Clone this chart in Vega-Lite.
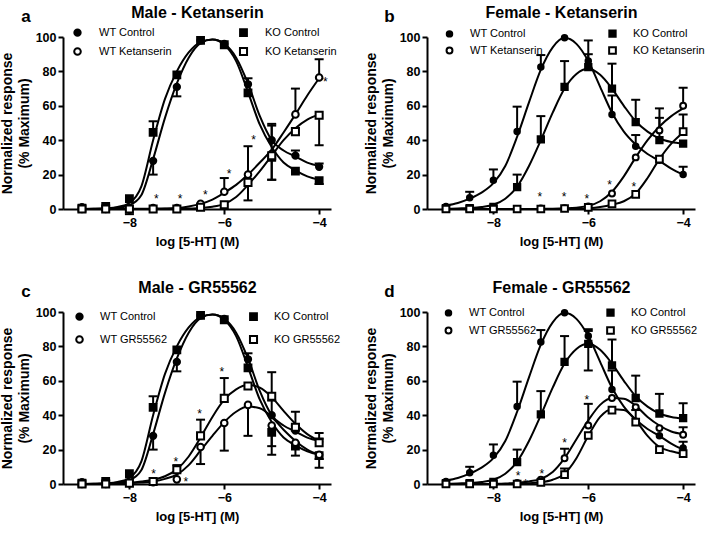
{
"$schema":"https://vega.github.io/schema/vega-lite/v6.json",
"padding":{"left":0,"top":4,"right":3,"bottom":5},
"config":{"font":"Liberation Sans","view":{"stroke":null},
"axis":{"domainColor":"black","domainWidth":2,"tickColor":"black","tickWidth":2,"tickSize":5,"labelColor":"black","labelFontSize":12.5,"labelFontWeight":"bold","labelFont":"Liberation Sans","titleFont":"Liberation Sans","titleFontSize":14,"titleFontWeight":"bold","titleColor":"black","grid":false,"labelPadding":2},
"title":{"font":"Liberation Sans","fontSize":17,"fontWeight":"bold","color":"black"}},
"datasets":{
"pts":[
{"p":"a","s":"WT Control","x":-9,"y":1},{"p":"a","s":"WT Control","x":-8.5,"y":0.5},{"p":"a","s":"WT Control","x":-8,"y":0.5},{"p":"a","s":"WT Control","x":-7.5,"y":28,"lo":20},{"p":"a","s":"WT Control","x":-7,"y":71,"lo":65.5},{"p":"a","s":"WT Control","x":-6.5,"y":98},{"p":"a","s":"WT Control","x":-6,"y":96},{"p":"a","s":"WT Control","x":-5.5,"y":72.5,"hi":76},{"p":"a","s":"WT Control","x":-5,"y":40,"hi":48.5},{"p":"a","s":"WT Control","x":-4.5,"y":31,"hi":34},{"p":"a","s":"WT Control","x":-4,"y":24.5,"hi":26.5},
{"p":"a","s":"KO Control","x":-9,"y":0.5},{"p":"a","s":"KO Control","x":-8.5,"y":1.5},{"p":"a","s":"KO Control","x":-8,"y":6},{"p":"a","s":"KO Control","x":-7.5,"y":44.5,"hi":51},{"p":"a","s":"KO Control","x":-7,"y":78},{"p":"a","s":"KO Control","x":-6.5,"y":98},{"p":"a","s":"KO Control","x":-6,"y":95.5},{"p":"a","s":"KO Control","x":-5.5,"y":67.5},{"p":"a","s":"KO Control","x":-5,"y":30,"lo":17},{"p":"a","s":"KO Control","x":-4.5,"y":22},{"p":"a","s":"KO Control","x":-4,"y":16.5,"lo":14.5},
{"p":"a","s":"WT Ketanserin","x":-9,"y":0},{"p":"a","s":"WT Ketanserin","x":-8.5,"y":0},{"p":"a","s":"WT Ketanserin","x":-8,"y":0,"lo":-3},{"p":"a","s":"WT Ketanserin","x":-7.5,"y":0.5},{"p":"a","s":"WT Ketanserin","x":-7,"y":0.5},{"p":"a","s":"WT Ketanserin","x":-6.5,"y":3},{"p":"a","s":"WT Ketanserin","x":-6,"y":10,"hi":18},{"p":"a","s":"WT Ketanserin","x":-5.5,"y":20,"hi":36.5},{"p":"a","s":"WT Ketanserin","x":-5,"y":32,"hi":49.5},{"p":"a","s":"WT Ketanserin","x":-4.5,"y":55,"hi":70},{"p":"a","s":"WT Ketanserin","x":-4,"y":76.5,"hi":87},
{"p":"a","s":"KO Ketanserin","x":-9,"y":0},{"p":"a","s":"KO Ketanserin","x":-8.5,"y":0},{"p":"a","s":"KO Ketanserin","x":-8,"y":0},{"p":"a","s":"KO Ketanserin","x":-7.5,"y":0},{"p":"a","s":"KO Ketanserin","x":-7,"y":0},{"p":"a","s":"KO Ketanserin","x":-6.5,"y":1},{"p":"a","s":"KO Ketanserin","x":-6,"y":2.5},{"p":"a","s":"KO Ketanserin","x":-5.5,"y":15.5,"lo":5},{"p":"a","s":"KO Ketanserin","x":-5,"y":31,"lo":17},{"p":"a","s":"KO Ketanserin","x":-4.5,"y":45},{"p":"a","s":"KO Ketanserin","x":-4,"y":54.5,"lo":37},

{"p":"b","s":"WT Control","x":-9,"y":1.5},{"p":"b","s":"WT Control","x":-8.5,"y":6.5,"hi":10},{"p":"b","s":"WT Control","x":-8,"y":16.7,"hi":23},{"p":"b","s":"WT Control","x":-7.5,"y":45,"hi":59.5},{"p":"b","s":"WT Control","x":-7,"y":82.5,"hi":89.5},{"p":"b","s":"WT Control","x":-6.5,"y":99.5},{"p":"b","s":"WT Control","x":-6,"y":86,"hi":90},{"p":"b","s":"WT Control","x":-5.5,"y":55,"hi":66},{"p":"b","s":"WT Control","x":-5,"y":36.5,"hi":43},{"p":"b","s":"WT Control","x":-4.5,"y":28.3},{"p":"b","s":"WT Control","x":-4,"y":20,"hi":24.5},
{"p":"b","s":"KO Control","x":-9,"y":0.5},{"p":"b","s":"KO Control","x":-8.5,"y":0.5},{"p":"b","s":"KO Control","x":-8,"y":1.2},{"p":"b","s":"KO Control","x":-7.5,"y":12.7,"hi":20},{"p":"b","s":"KO Control","x":-7,"y":40.5,"hi":54},{"p":"b","s":"KO Control","x":-6.5,"y":71,"hi":86},{"p":"b","s":"KO Control","x":-6,"y":82.5,"hi":98},{"p":"b","s":"KO Control","x":-5.5,"y":70,"hi":84.5},{"p":"b","s":"KO Control","x":-5,"y":50.5,"hi":63.5},{"p":"b","s":"KO Control","x":-4.5,"y":40,"hi":53},{"p":"b","s":"KO Control","x":-4,"y":38},
{"p":"b","s":"WT Ketanserin","x":-9,"y":0},{"p":"b","s":"WT Ketanserin","x":-8.5,"y":0},{"p":"b","s":"WT Ketanserin","x":-8,"y":0},{"p":"b","s":"WT Ketanserin","x":-7.5,"y":0},{"p":"b","s":"WT Ketanserin","x":-7,"y":0.3},{"p":"b","s":"WT Ketanserin","x":-6.5,"y":0.5},{"p":"b","s":"WT Ketanserin","x":-6,"y":1.5},{"p":"b","s":"WT Ketanserin","x":-5.5,"y":9},{"p":"b","s":"WT Ketanserin","x":-5,"y":30},{"p":"b","s":"WT Ketanserin","x":-4.5,"y":45.7,"hi":58.5},{"p":"b","s":"WT Ketanserin","x":-4,"y":60,"hi":70.5},
{"p":"b","s":"KO Ketanserin","x":-9,"y":0},{"p":"b","s":"KO Ketanserin","x":-8.5,"y":0},{"p":"b","s":"KO Ketanserin","x":-8,"y":0},{"p":"b","s":"KO Ketanserin","x":-7.5,"y":0},{"p":"b","s":"KO Ketanserin","x":-7,"y":0},{"p":"b","s":"KO Ketanserin","x":-6.5,"y":0.3},{"p":"b","s":"KO Ketanserin","x":-6,"y":1},{"p":"b","s":"KO Ketanserin","x":-5.5,"y":3},{"p":"b","s":"KO Ketanserin","x":-5,"y":8.5},{"p":"b","s":"KO Ketanserin","x":-4.5,"y":29},{"p":"b","s":"KO Ketanserin","x":-4,"y":45,"hi":55},

{"p":"c","s":"WT Control","x":-9,"y":1},{"p":"c","s":"WT Control","x":-8.5,"y":0.5},{"p":"c","s":"WT Control","x":-8,"y":0.5},{"p":"c","s":"WT Control","x":-7.5,"y":28,"lo":20},{"p":"c","s":"WT Control","x":-7,"y":71,"lo":65.5},{"p":"c","s":"WT Control","x":-6.5,"y":98},{"p":"c","s":"WT Control","x":-6,"y":96},{"p":"c","s":"WT Control","x":-5.5,"y":72.5,"hi":76},{"p":"c","s":"WT Control","x":-5,"y":40,"hi":48.5},{"p":"c","s":"WT Control","x":-4.5,"y":31,"hi":34},{"p":"c","s":"WT Control","x":-4,"y":24.5,"hi":26.5},
{"p":"c","s":"KO Control","x":-9,"y":0.5},{"p":"c","s":"KO Control","x":-8.5,"y":1.5},{"p":"c","s":"KO Control","x":-8,"y":6},{"p":"c","s":"KO Control","x":-7.5,"y":44.5,"hi":51},{"p":"c","s":"KO Control","x":-7,"y":78},{"p":"c","s":"KO Control","x":-6.5,"y":98},{"p":"c","s":"KO Control","x":-6,"y":95.5},{"p":"c","s":"KO Control","x":-5.5,"y":67.5},{"p":"c","s":"KO Control","x":-5,"y":30,"lo":17},{"p":"c","s":"KO Control","x":-4.5,"y":22},{"p":"c","s":"KO Control","x":-4,"y":16.5,"lo":14.5},
{"p":"c","s":"WT GR55562","x":-9,"y":0},{"p":"c","s":"WT GR55562","x":-8.5,"y":0},{"p":"c","s":"WT GR55562","x":-8,"y":0.5},{"p":"c","s":"WT GR55562","x":-7.5,"y":1},{"p":"c","s":"WT GR55562","x":-7,"y":2.7},{"p":"c","s":"WT GR55562","x":-6.5,"y":21.5,"lo":11.6},{"p":"c","s":"WT GR55562","x":-6,"y":35.5,"lo":19.4},{"p":"c","s":"WT GR55562","x":-5.5,"y":46,"lo":28},{"p":"c","s":"WT GR55562","x":-5,"y":34,"lo":22},{"p":"c","s":"WT GR55562","x":-4.5,"y":24,"lo":16.5},{"p":"c","s":"WT GR55562","x":-4,"y":17,"lo":9.5},
{"p":"c","s":"KO GR55562","x":-9,"y":0},{"p":"c","s":"KO GR55562","x":-8.5,"y":0},{"p":"c","s":"KO GR55562","x":-8,"y":0.5},{"p":"c","s":"KO GR55562","x":-7.5,"y":1.5},{"p":"c","s":"KO GR55562","x":-7,"y":8.3,"hi":11},{"p":"c","s":"KO GR55562","x":-6.5,"y":28,"hi":37.4},{"p":"c","s":"KO GR55562","x":-6,"y":49.8,"hi":61.6},{"p":"c","s":"KO GR55562","x":-5.5,"y":57},{"p":"c","s":"KO GR55562","x":-5,"y":51,"hi":65},{"p":"c","s":"KO GR55562","x":-4.5,"y":33,"hi":42},{"p":"c","s":"KO GR55562","x":-4,"y":24,"hi":29.6},

{"p":"d","s":"WT Control","x":-9,"y":1.5},{"p":"d","s":"WT Control","x":-8.5,"y":6.5,"hi":10},{"p":"d","s":"WT Control","x":-8,"y":16.7,"hi":23},{"p":"d","s":"WT Control","x":-7.5,"y":45,"hi":59.5},{"p":"d","s":"WT Control","x":-7,"y":82.5,"hi":89.5},{"p":"d","s":"WT Control","x":-6.5,"y":99.5},{"p":"d","s":"WT Control","x":-6,"y":86,"hi":90},{"p":"d","s":"WT Control","x":-5.5,"y":55,"hi":66},{"p":"d","s":"WT Control","x":-5,"y":36.5,"hi":43},{"p":"d","s":"WT Control","x":-4.5,"y":28},{"p":"d","s":"WT Control","x":-4,"y":21,"hi":24.5},
{"p":"d","s":"KO Control","x":-9,"y":0.5},{"p":"d","s":"KO Control","x":-8.5,"y":0.5},{"p":"d","s":"KO Control","x":-8,"y":1.2},{"p":"d","s":"KO Control","x":-7.5,"y":12.7,"hi":20},{"p":"d","s":"KO Control","x":-7,"y":40.5,"hi":54},{"p":"d","s":"KO Control","x":-6.5,"y":71,"hi":86},{"p":"d","s":"KO Control","x":-6,"y":81.5,"hi":89,"lo":66},{"p":"d","s":"KO Control","x":-5.5,"y":69,"hi":84},{"p":"d","s":"KO Control","x":-5,"y":50,"hi":63},{"p":"d","s":"KO Control","x":-4.5,"y":41,"hi":52.4},{"p":"d","s":"KO Control","x":-4,"y":38.3,"hi":47},
{"p":"d","s":"WT GR55562","x":-9,"y":0},{"p":"d","s":"WT GR55562","x":-8.5,"y":0},{"p":"d","s":"WT GR55562","x":-8,"y":0},{"p":"d","s":"WT GR55562","x":-7.5,"y":0.6},{"p":"d","s":"WT GR55562","x":-7,"y":2.5},{"p":"d","s":"WT GR55562","x":-6.5,"y":15,"hi":20.5},{"p":"d","s":"WT GR55562","x":-6,"y":34,"hi":46.6},{"p":"d","s":"WT GR55562","x":-5.5,"y":50},{"p":"d","s":"WT GR55562","x":-5,"y":44.7},{"p":"d","s":"WT GR55562","x":-4.5,"y":32.5},{"p":"d","s":"WT GR55562","x":-4,"y":28.6,"hi":33},
{"p":"d","s":"KO GR55562","x":-9,"y":0},{"p":"d","s":"KO GR55562","x":-8.5,"y":0},{"p":"d","s":"KO GR55562","x":-8,"y":0},{"p":"d","s":"KO GR55562","x":-7.5,"y":0},{"p":"d","s":"KO GR55562","x":-7,"y":1},{"p":"d","s":"KO GR55562","x":-6.5,"y":5.4,"hi":9},{"p":"d","s":"KO GR55562","x":-6,"y":28.2},{"p":"d","s":"KO GR55562","x":-5.5,"y":43},{"p":"d","s":"KO GR55562","x":-5,"y":36},{"p":"d","s":"KO GR55562","x":-4.5,"y":20},{"p":"d","s":"KO GR55562","x":-4,"y":17.6}
],
"crv":[
{"p":"a","x":-9,"wc":0,"kc":0,"wt":0,"kt":0},{"p":"a","x":-8.75,"wc":0.1,"kc":0.1,"wt":0,"kt":0},{"p":"a","x":-8.5,"wc":0.3,"kc":0.4,"wt":0,"kt":0},{"p":"a","x":-8.25,"wc":0.7,"kc":1.2,"wt":0,"kt":0},{"p":"a","x":-8,"wc":2.2,"kc":3.5,"wt":0.1,"kt":0},{"p":"a","x":-7.75,"wc":8,"kc":13,"wt":0.1,"kt":0},{"p":"a","x":-7.5,"wc":29,"kc":40,"wt":0.2,"kt":0},{"p":"a","x":-7.25,"wc":53,"kc":64,"wt":0.3,"kt":0.1},{"p":"a","x":-7,"wc":73,"kc":80,"wt":0.6,"kt":0.2},{"p":"a","x":-6.75,"wc":88,"kc":91,"wt":1.5,"kt":0.3},{"p":"a","x":-6.5,"wc":96.5,"kc":97,"wt":3,"kt":0.6},{"p":"a","x":-6.25,"wc":98.5,"kc":98.5,"wt":5.5,"kt":1.3},{"p":"a","x":-6,"wc":96,"kc":95.5,"wt":9.5,"kt":3},{"p":"a","x":-5.75,"wc":88,"kc":86,"wt":14,"kt":7},{"p":"a","x":-5.5,"wc":73,"kc":68,"wt":20,"kt":14},{"p":"a","x":-5.25,"wc":54,"kc":49,"wt":27,"kt":22},{"p":"a","x":-5,"wc":40,"kc":36,"wt":34.5,"kt":31},{"p":"a","x":-4.75,"wc":34,"kc":27,"wt":44.5,"kt":40},{"p":"a","x":-4.5,"wc":30.5,"kc":22.5,"wt":55,"kt":47},{"p":"a","x":-4.25,"wc":27,"kc":19,"wt":66,"kt":52},{"p":"a","x":-4,"wc":25,"kc":17,"wt":76,"kt":55},
{"p":"c","x":-9,"wc":0,"kc":0,"wt":0,"kt":0},{"p":"c","x":-8.75,"wc":0.1,"kc":0.1,"wt":0,"kt":0},{"p":"c","x":-8.5,"wc":0.3,"kc":0.4,"wt":0,"kt":0.2},{"p":"c","x":-8.25,"wc":0.7,"kc":1.2,"wt":0.2,"kt":0.4},{"p":"c","x":-8,"wc":2.2,"kc":3.5,"wt":0.4,"kt":0.8},{"p":"c","x":-7.75,"wc":8,"kc":13,"wt":0.8,"kt":1.5},{"p":"c","x":-7.5,"wc":29,"kc":40,"wt":1.5,"kt":2.5},{"p":"c","x":-7.25,"wc":53,"kc":64,"wt":3,"kt":4.5},{"p":"c","x":-7,"wc":73,"kc":80,"wt":5.5,"kt":8.5},{"p":"c","x":-6.75,"wc":88,"kc":91,"wt":11,"kt":16},{"p":"c","x":-6.5,"wc":96.5,"kc":97,"wt":19.5,"kt":27},{"p":"c","x":-6.25,"wc":98.5,"kc":98.5,"wt":28,"kt":39},{"p":"c","x":-6,"wc":96,"kc":95.5,"wt":36,"kt":49},{"p":"c","x":-5.75,"wc":88,"kc":86,"wt":42,"kt":55},{"p":"c","x":-5.5,"wc":73,"kc":68,"wt":45,"kt":57.5},{"p":"c","x":-5.25,"wc":54,"kc":49,"wt":44,"kt":56},{"p":"c","x":-5,"wc":40,"kc":36,"wt":39,"kt":50.5},{"p":"c","x":-4.75,"wc":34,"kc":27,"wt":31.5,"kt":42.5},{"p":"c","x":-4.5,"wc":30.5,"kc":22.5,"wt":25,"kt":35},{"p":"c","x":-4.25,"wc":27,"kc":19,"wt":20,"kt":29},{"p":"c","x":-4,"wc":25,"kc":17,"wt":17,"kt":25},
{"p":"b","x":-9,"wc":2,"kc":0,"wt":0,"kt":0},{"p":"b","x":-8.75,"wc":3.5,"kc":0.3,"wt":0,"kt":0},{"p":"b","x":-8.5,"wc":6,"kc":0.6,"wt":0,"kt":0},{"p":"b","x":-8.25,"wc":9.5,"kc":1.2,"wt":0,"kt":0},{"p":"b","x":-8,"wc":15,"kc":2.5,"wt":0,"kt":0},{"p":"b","x":-7.75,"wc":25,"kc":6,"wt":0,"kt":0},{"p":"b","x":-7.5,"wc":42,"kc":13,"wt":0,"kt":0},{"p":"b","x":-7.25,"wc":62,"kc":25,"wt":0,"kt":0},{"p":"b","x":-7,"wc":81,"kc":40,"wt":0.1,"kt":0},{"p":"b","x":-6.75,"wc":94,"kc":56,"wt":0.2,"kt":0},{"p":"b","x":-6.5,"wc":99.5,"kc":70,"wt":0.4,"kt":0},{"p":"b","x":-6.25,"wc":96,"kc":78.5,"wt":0.8,"kt":0.2},{"p":"b","x":-6,"wc":86,"kc":81.5,"wt":1.8,"kt":0.5},{"p":"b","x":-5.75,"wc":71,"kc":78,"wt":4.5,"kt":1.2},{"p":"b","x":-5.5,"wc":56,"kc":70,"wt":10,"kt":2.5},{"p":"b","x":-5.25,"wc":45,"kc":60,"wt":19,"kt":4.5},{"p":"b","x":-5,"wc":37.5,"kc":51,"wt":30,"kt":9},{"p":"b","x":-4.75,"wc":32,"kc":45,"wt":40,"kt":18},{"p":"b","x":-4.5,"wc":28,"kc":41,"wt":48,"kt":29},{"p":"b","x":-4.25,"wc":23.5,"kc":39,"wt":54,"kt":38},{"p":"b","x":-4,"wc":20,"kc":38,"wt":58.5,"kt":44.5},
{"p":"d","x":-9,"wc":2,"kc":0,"wt":0,"kt":0},{"p":"d","x":-8.75,"wc":3.5,"kc":0.3,"wt":0,"kt":0},{"p":"d","x":-8.5,"wc":6,"kc":0.6,"wt":0,"kt":0},{"p":"d","x":-8.25,"wc":9.5,"kc":1.2,"wt":0,"kt":0},{"p":"d","x":-8,"wc":15,"kc":2.5,"wt":0.1,"kt":0},{"p":"d","x":-7.75,"wc":25,"kc":6,"wt":0.3,"kt":0},{"p":"d","x":-7.5,"wc":42,"kc":13,"wt":0.8,"kt":0.1},{"p":"d","x":-7.25,"wc":62,"kc":25,"wt":1.5,"kt":0.5},{"p":"d","x":-7,"wc":81,"kc":40,"wt":3,"kt":1},{"p":"d","x":-6.75,"wc":94,"kc":56,"wt":7,"kt":2.5},{"p":"d","x":-6.5,"wc":99.5,"kc":70,"wt":15,"kt":6},{"p":"d","x":-6.25,"wc":96,"kc":78.5,"wt":26,"kt":15},{"p":"d","x":-6,"wc":86,"kc":81.5,"wt":37,"kt":28},{"p":"d","x":-5.75,"wc":71,"kc":78,"wt":46,"kt":39},{"p":"d","x":-5.5,"wc":56,"kc":70,"wt":50,"kt":43.5},{"p":"d","x":-5.25,"wc":45,"kc":60,"wt":49.5,"kt":43},{"p":"d","x":-5,"wc":37.5,"kc":51,"wt":45.5,"kt":37},{"p":"d","x":-4.75,"wc":32,"kc":45,"wt":39,"kt":28},{"p":"d","x":-4.5,"wc":28,"kc":41,"wt":34,"kt":21.5},{"p":"d","x":-4.25,"wc":23.5,"kc":39,"wt":30.5,"kt":19},{"p":"d","x":-4,"wc":20,"kc":38,"wt":29,"kt":17.5}
],
"ast":[
{"p":"a","x":-7.43,"y":7.5},{"p":"a","x":-6.93,"y":7.5},{"p":"a","x":-6.4,"y":10},{"p":"a","x":-5.9,"y":22},{"p":"a","x":-5.38,"y":42},{"p":"a","x":-3.87,"y":75.5},
{"p":"b","x":-7.02,"y":8.7},{"p":"b","x":-6.51,"y":8.7},{"p":"b","x":-6.03,"y":7.8},{"p":"b","x":-5.55,"y":15.9},{"p":"b","x":-5.04,"y":14.5},
{"p":"c","x":-7.49,"y":7.6},{"p":"c","x":-7.02,"y":14.7},{"p":"c","x":-6.81,"y":2.7},{"p":"c","x":-6.52,"y":42.4},{"p":"c","x":-6.05,"y":66.7},
{"p":"d","x":-7.48,"y":6.4},{"p":"d","x":-7.32,"y":2},{"p":"d","x":-6.98,"y":7.3},{"p":"d","x":-6.5,"y":25.5},{"p":"d","x":-6.03,"y":50.6}
]},
"columns":2,
"bounds":"flush",
"spacing":{"row":103,"column":96},
"resolve":{"scale":{"x":"independent","y":"independent","shape":"independent","fill":"independent","size":"independent"},"legend":{"shape":"independent","fill":"independent","size":"independent"}},
"concat":[
{"width":268,"height":172,"title":{"text":"a","anchor":"start","frame":"bounds","offset":-22,"dx":21},"resolve":{"axis":{"x":"independent","y":"independent"}},
"layer":[
{"data":{"name":"crv"},"transform":[{"filter":"datum.p==='a'"},{"fold":["wc","kc","wt","kt"],"as":["k","v"]}],"mark":{"type":"line","interpolate":"monotone","color":"black","strokeWidth":2},
"encoding":{"x":{"field":"x","type":"quantitative","scale":{"domain":[-9.4,-3.75],"nice":false,"zero":false},"axis":{"values":[-8,-6,-4],"format":"d","title":"log [5-HT] (M)","titleFontSize":13,"titlePadding":7}},"y":{"field":"v","type":"quantitative","scale":{"domain":[0,100],"nice":false},"axis":{"values":[0,20,40,60,80,100],"title":["Normalized response","(% Maximum)"],"titleLineHeight":17,"titlePadding":4}},"detail":{"field":"k"}}},
{"data":{"name":"pts"},"transform":[{"filter":"datum.p==='a' && isValid(datum.hi)"}],"mark":{"type":"rule","color":"black","strokeWidth":2},"encoding":{"x":{"field":"x","type":"quantitative","axis":null},"y":{"field":"y","type":"quantitative","axis":null},"y2":{"field":"hi"}}},
{"data":{"name":"pts"},"transform":[{"filter":"datum.p==='a' && isValid(datum.lo)"}],"mark":{"type":"rule","color":"black","strokeWidth":2},"encoding":{"x":{"field":"x","type":"quantitative","axis":null},"y":{"field":"y","type":"quantitative","axis":null},"y2":{"field":"lo"}}},
{"data":{"name":"pts"},"transform":[{"filter":"datum.p==='a' && isValid(datum.hi)"}],"mark":{"type":"tick","orient":"horizontal","color":"black","size":9,"thickness":2,"opacity":1},"encoding":{"x":{"field":"x","type":"quantitative","axis":null},"y":{"field":"hi","type":"quantitative","axis":null}}},
{"data":{"name":"pts"},"transform":[{"filter":"datum.p==='a' && isValid(datum.lo)"}],"mark":{"type":"tick","orient":"horizontal","color":"black","size":9,"thickness":2,"opacity":1},"encoding":{"x":{"field":"x","type":"quantitative","axis":null},"y":{"field":"lo","type":"quantitative","axis":null}}},
{"data":{"name":"ast"},"transform":[{"filter":"datum.p==='a'"}],"mark":{"type":"text","text":"*","fontSize":12,"dy":3,"color":"black"},"encoding":{"x":{"field":"x","type":"quantitative","axis":{"orient":"top","title":"Male - Ketanserin","labels":false,"ticks":false,"domain":false,"titleFontSize":16,"titlePadding":17}},"y":{"field":"y","type":"quantitative","axis":null}}},
{"data":{"name":"pts"},"transform":[{"filter":"datum.p==='a'"}],"mark":{"type":"point","filled":true,"stroke":"black","strokeWidth":2,"opacity":1},
"encoding":{"x":{"field":"x","type":"quantitative","axis":null},"y":{"field":"y","type":"quantitative","axis":null},
"shape":{"field":"s","type":"nominal","scale":{"domain":["WT Control","WT Ketanserin","KO Control","KO Ketanserin"],"range":["circle","circle","square","square"]},"legend":{"orient":"none","legendX":9,"legendY":-10,"columns":2,"columnPadding":63,"rowPadding":3,"title":null,"labelFontSize":11,"labelFont":"Liberation Sans","labelColor":"black","labelOffset":16,"symbolStrokeColor":"black","symbolStrokeWidth":2,"symbolOpacity":1}},
"fill":{"field":"s","type":"nominal","scale":{"domain":["WT Control","WT Ketanserin","KO Control","KO Ketanserin"],"range":["black","white","black","white"]}},
"size":{"field":"s","type":"nominal","scale":{"domain":["WT Control","WT Ketanserin","KO Control","KO Ketanserin"],"range":[40,50,45,55]}}}}
]},
{"width":268,"height":172,"title":{"text":"b","anchor":"start","frame":"bounds","offset":-22,"dx":20},"resolve":{"axis":{"x":"independent","y":"independent"}},
"layer":[
{"data":{"name":"crv"},"transform":[{"filter":"datum.p==='b'"},{"fold":["wc","kc","wt","kt"],"as":["k","v"]}],"mark":{"type":"line","interpolate":"monotone","color":"black","strokeWidth":2},
"encoding":{"x":{"field":"x","type":"quantitative","scale":{"domain":[-9.4,-3.75],"nice":false,"zero":false},"axis":{"values":[-8,-6,-4],"format":"d","title":"log [5-HT] (M)","titleFontSize":13,"titlePadding":7}},"y":{"field":"v","type":"quantitative","scale":{"domain":[0,100],"nice":false},"axis":{"values":[0,20,40,60,80,100],"title":["Normalized response","(% Maximum)"],"titleLineHeight":17,"titlePadding":4}},"detail":{"field":"k"}}},
{"data":{"name":"pts"},"transform":[{"filter":"datum.p==='b' && isValid(datum.hi)"}],"mark":{"type":"rule","color":"black","strokeWidth":2},"encoding":{"x":{"field":"x","type":"quantitative","axis":null},"y":{"field":"y","type":"quantitative","axis":null},"y2":{"field":"hi"}}},
{"data":{"name":"pts"},"transform":[{"filter":"datum.p==='b' && isValid(datum.lo)"}],"mark":{"type":"rule","color":"black","strokeWidth":2},"encoding":{"x":{"field":"x","type":"quantitative","axis":null},"y":{"field":"y","type":"quantitative","axis":null},"y2":{"field":"lo"}}},
{"data":{"name":"pts"},"transform":[{"filter":"datum.p==='b' && isValid(datum.hi)"}],"mark":{"type":"tick","orient":"horizontal","color":"black","size":9,"thickness":2,"opacity":1},"encoding":{"x":{"field":"x","type":"quantitative","axis":null},"y":{"field":"hi","type":"quantitative","axis":null}}},
{"data":{"name":"pts"},"transform":[{"filter":"datum.p==='b' && isValid(datum.lo)"}],"mark":{"type":"tick","orient":"horizontal","color":"black","size":9,"thickness":2,"opacity":1},"encoding":{"x":{"field":"x","type":"quantitative","axis":null},"y":{"field":"lo","type":"quantitative","axis":null}}},
{"data":{"name":"ast"},"transform":[{"filter":"datum.p==='b'"}],"mark":{"type":"text","text":"*","fontSize":12,"dy":3,"color":"black"},"encoding":{"x":{"field":"x","type":"quantitative","axis":{"orient":"top","title":"Female - Ketanserin","labels":false,"ticks":false,"domain":false,"titleFontSize":16,"titlePadding":17}},"y":{"field":"y","type":"quantitative","axis":null}}},
{"data":{"name":"pts"},"transform":[{"filter":"datum.p==='b'"}],"mark":{"type":"point","filled":true,"stroke":"black","strokeWidth":2,"opacity":1},
"encoding":{"x":{"field":"x","type":"quantitative","axis":null},"y":{"field":"y","type":"quantitative","axis":null},
"shape":{"field":"s","type":"nominal","scale":{"domain":["WT Control","WT Ketanserin","KO Control","KO Ketanserin"],"range":["circle","circle","square","square"]},"legend":{"orient":"none","legendX":17,"legendY":-9,"columns":2,"columnPadding":62,"rowPadding":2,"title":null,"labelFontSize":11,"labelFont":"Liberation Sans","labelColor":"black","labelOffset":15,"symbolStrokeColor":"black","symbolStrokeWidth":2,"symbolOpacity":1}},
"fill":{"field":"s","type":"nominal","scale":{"domain":["WT Control","WT Ketanserin","KO Control","KO Ketanserin"],"range":["black","white","black","white"]}},
"size":{"field":"s","type":"nominal","scale":{"domain":["WT Control","WT Ketanserin","KO Control","KO Ketanserin"],"range":[30,45,90,50]}}}}
]},
{"width":268,"height":172,"title":{"text":"c","anchor":"start","frame":"bounds","offset":-22,"dx":21},"resolve":{"axis":{"x":"independent","y":"independent"}},
"layer":[
{"data":{"name":"crv"},"transform":[{"filter":"datum.p==='c'"},{"fold":["wc","kc","wt","kt"],"as":["k","v"]}],"mark":{"type":"line","interpolate":"monotone","color":"black","strokeWidth":2},
"encoding":{"x":{"field":"x","type":"quantitative","scale":{"domain":[-9.4,-3.75],"nice":false,"zero":false},"axis":{"values":[-8,-6,-4],"format":"d","title":"log [5-HT] (M)","titleFontSize":13,"titlePadding":7}},"y":{"field":"v","type":"quantitative","scale":{"domain":[0,100],"nice":false},"axis":{"values":[0,20,40,60,80,100],"title":["Normalized response","(% Maximum)"],"titleLineHeight":17,"titlePadding":4}},"detail":{"field":"k"}}},
{"data":{"name":"pts"},"transform":[{"filter":"datum.p==='c' && isValid(datum.hi)"}],"mark":{"type":"rule","color":"black","strokeWidth":2},"encoding":{"x":{"field":"x","type":"quantitative","axis":null},"y":{"field":"y","type":"quantitative","axis":null},"y2":{"field":"hi"}}},
{"data":{"name":"pts"},"transform":[{"filter":"datum.p==='c' && isValid(datum.lo)"}],"mark":{"type":"rule","color":"black","strokeWidth":2},"encoding":{"x":{"field":"x","type":"quantitative","axis":null},"y":{"field":"y","type":"quantitative","axis":null},"y2":{"field":"lo"}}},
{"data":{"name":"pts"},"transform":[{"filter":"datum.p==='c' && isValid(datum.hi)"}],"mark":{"type":"tick","orient":"horizontal","color":"black","size":9,"thickness":2,"opacity":1},"encoding":{"x":{"field":"x","type":"quantitative","axis":null},"y":{"field":"hi","type":"quantitative","axis":null}}},
{"data":{"name":"pts"},"transform":[{"filter":"datum.p==='c' && isValid(datum.lo)"}],"mark":{"type":"tick","orient":"horizontal","color":"black","size":9,"thickness":2,"opacity":1},"encoding":{"x":{"field":"x","type":"quantitative","axis":null},"y":{"field":"lo","type":"quantitative","axis":null}}},
{"data":{"name":"ast"},"transform":[{"filter":"datum.p==='c'"}],"mark":{"type":"text","text":"*","fontSize":12,"dy":3,"color":"black"},"encoding":{"x":{"field":"x","type":"quantitative","axis":{"orient":"top","title":"Male - GR55562","labels":false,"ticks":false,"domain":false,"titleFontSize":16,"titlePadding":17}},"y":{"field":"y","type":"quantitative","axis":null}}},
{"data":{"name":"pts"},"transform":[{"filter":"datum.p==='c'"}],"mark":{"type":"point","filled":true,"stroke":"black","strokeWidth":2,"opacity":1},
"encoding":{"x":{"field":"x","type":"quantitative","axis":null},"y":{"field":"y","type":"quantitative","axis":null},
"shape":{"field":"s","type":"nominal","scale":{"domain":["WT Control","WT GR55562","KO Control","KO GR55562"],"range":["circle","circle","square","square"]},"legend":{"orient":"none","legendX":11,"legendY":-1,"columns":2,"columnPadding":77,"rowPadding":7,"title":null,"labelFontSize":11,"labelFont":"Liberation Sans","labelColor":"black","labelOffset":15,"symbolStrokeColor":"black","symbolStrokeWidth":2,"symbolOpacity":1}},
"fill":{"field":"s","type":"nominal","scale":{"domain":["WT Control","WT GR55562","KO Control","KO GR55562"],"range":["black","white","black","white"]}},
"size":{"field":"s","type":"nominal","scale":{"domain":["WT Control","WT GR55562","KO Control","KO GR55562"],"range":[40,50,45,55]}}}}
]},
{"width":268,"height":172,"title":{"text":"d","anchor":"start","frame":"bounds","offset":-22,"dx":20},"resolve":{"axis":{"x":"independent","y":"independent"}},
"layer":[
{"data":{"name":"crv"},"transform":[{"filter":"datum.p==='d'"},{"fold":["wc","kc","wt","kt"],"as":["k","v"]}],"mark":{"type":"line","interpolate":"monotone","color":"black","strokeWidth":2},
"encoding":{"x":{"field":"x","type":"quantitative","scale":{"domain":[-9.4,-3.75],"nice":false,"zero":false},"axis":{"values":[-8,-6,-4],"format":"d","title":"log [5-HT] (M)","titleFontSize":13,"titlePadding":7}},"y":{"field":"v","type":"quantitative","scale":{"domain":[0,100],"nice":false},"axis":{"values":[0,20,40,60,80,100],"title":["Normalized response","(% Maximum)"],"titleLineHeight":17,"titlePadding":4}},"detail":{"field":"k"}}},
{"data":{"name":"pts"},"transform":[{"filter":"datum.p==='d' && isValid(datum.hi)"}],"mark":{"type":"rule","color":"black","strokeWidth":2},"encoding":{"x":{"field":"x","type":"quantitative","axis":null},"y":{"field":"y","type":"quantitative","axis":null},"y2":{"field":"hi"}}},
{"data":{"name":"pts"},"transform":[{"filter":"datum.p==='d' && isValid(datum.lo)"}],"mark":{"type":"rule","color":"black","strokeWidth":2},"encoding":{"x":{"field":"x","type":"quantitative","axis":null},"y":{"field":"y","type":"quantitative","axis":null},"y2":{"field":"lo"}}},
{"data":{"name":"pts"},"transform":[{"filter":"datum.p==='d' && isValid(datum.hi)"}],"mark":{"type":"tick","orient":"horizontal","color":"black","size":9,"thickness":2,"opacity":1},"encoding":{"x":{"field":"x","type":"quantitative","axis":null},"y":{"field":"hi","type":"quantitative","axis":null}}},
{"data":{"name":"pts"},"transform":[{"filter":"datum.p==='d' && isValid(datum.lo)"}],"mark":{"type":"tick","orient":"horizontal","color":"black","size":9,"thickness":2,"opacity":1},"encoding":{"x":{"field":"x","type":"quantitative","axis":null},"y":{"field":"lo","type":"quantitative","axis":null}}},
{"data":{"name":"ast"},"transform":[{"filter":"datum.p==='d'"}],"mark":{"type":"text","text":"*","fontSize":12,"dy":3,"color":"black"},"encoding":{"x":{"field":"x","type":"quantitative","axis":{"orient":"top","title":"Female - GR55562","labels":false,"ticks":false,"domain":false,"titleFontSize":16,"titlePadding":17}},"y":{"field":"y","type":"quantitative","axis":null}}},
{"data":{"name":"pts"},"transform":[{"filter":"datum.p==='d'"}],"mark":{"type":"point","filled":true,"stroke":"black","strokeWidth":2,"opacity":1},
"encoding":{"x":{"field":"x","type":"quantitative","axis":null},"y":{"field":"y","type":"quantitative","axis":null},
"shape":{"field":"s","type":"nominal","scale":{"domain":["WT Control","WT GR55562","KO Control","KO GR55562"],"range":["circle","circle","square","square"]},"legend":{"orient":"none","legendX":16,"legendY":-5,"columns":2,"columnPadding":66,"rowPadding":3,"title":null,"labelFontSize":11,"labelFont":"Liberation Sans","labelColor":"black","labelOffset":15,"symbolStrokeColor":"black","symbolStrokeWidth":2,"symbolOpacity":1}},
"fill":{"field":"s","type":"nominal","scale":{"domain":["WT Control","WT GR55562","KO Control","KO GR55562"],"range":["black","white","black","white"]}},
"size":{"field":"s","type":"nominal","scale":{"domain":["WT Control","WT GR55562","KO Control","KO GR55562"],"range":[30,45,90,50]}}}}
]}
]
}
